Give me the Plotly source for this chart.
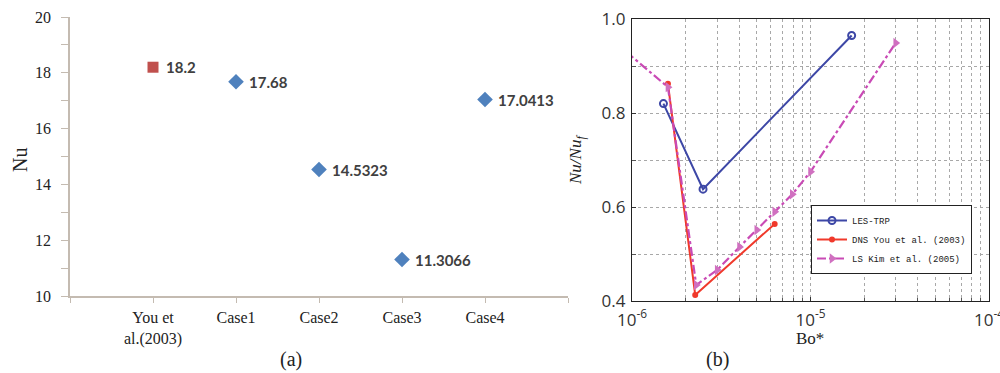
import plotly.graph_objects as go

# ---- panel (a): Nusselt number per case ----
case_labels = ["You et<br>al.(2003)", "Case1", "Case2", "Case3", "Case4"]
case_pos = [0, 1, 2, 3, 4]
nu_ref = [18.2]
nu_cases = [17.68, 14.5323, 11.3066, 17.0413]

# ---- panel (b): normalised Nusselt number vs buoyancy parameter ----
les_bo = [1.5e-6, 2.5e-6, 1.7e-5]
les_nu = [0.82, 0.638, 0.965]

dns_bo = [1.59e-6, 2.26e-6, 6.3e-6]
dns_nu = [0.862, 0.413, 0.564]

ls_bo = [9.3e-7, 1.59e-6, 2.29e-6, 3.0e-6, 4.0e-6, 5.0e-6, 6.3e-6, 7.9e-6, 1.0e-5, 3.0e-5]
ls_nu = [0.93, 0.855, 0.434, 0.466, 0.515, 0.551, 0.59, 0.627, 0.675, 0.949]

W, H = 1000, 373


def px_x(p):
    return p / W


def px_y(p):
    return 1 - p / H


fig = go.Figure()

fig.add_trace(go.Scatter(
    x=case_pos[:1], y=nu_ref, mode="markers",
    marker=dict(symbol="square", size=11, color="#C0504D"),
    xaxis="x", yaxis="y", showlegend=False,
))
fig.add_trace(go.Scatter(
    x=case_pos[1:], y=nu_cases, mode="markers",
    marker=dict(symbol="diamond", size=12, color="#4F81BD"),
    xaxis="x", yaxis="y", showlegend=False,
))

# value labels beside each marker
for xv, yv in zip(case_pos, nu_ref + nu_cases):
    fig.add_annotation(
        x=xv, y=yv, xref="x", yref="y", text=f"{yv:g}", showarrow=False,
        xanchor="left", yanchor="middle", xshift=11,
        font=dict(family="Lato", size=15, color="#404040", weight="bold"),
    )

fig.add_trace(go.Scatter(
    x=les_bo, y=les_nu, mode="lines+markers", name="LES-TRP",
    line=dict(color="#3D47A6", width=2),
    marker=dict(symbol="circle-open", size=7, color="#3D47A6", line=dict(width=2)),
    xaxis="x2", yaxis="y2",
))
fig.add_trace(go.Scatter(
    x=dns_bo, y=dns_nu, mode="lines+markers", name="DNS You et al. (2003)",
    line=dict(color="#F0392B", width=2),
    marker=dict(symbol="circle", size=6, color="#F0392B"),
    xaxis="x2", yaxis="y2",
))
fig.add_trace(go.Scatter(
    x=ls_bo, y=ls_nu, mode="lines+markers", name="LS Kim et al. (2005)",
    line=dict(color="#C94AB5", width=2.2, dash="dashdot"),
    marker=dict(symbol="triangle-right", size=9, color="#D070C0"),
    xaxis="x2", yaxis="y2",
))

axis_grey = "#C4BBB1"
serif = "Liberation Serif"

bo_major = [1e-6, 1e-5, 1e-4]
bo_major_text = ["10<sup>-6</sup>", "10<sup>-5</sup>", "10<sup>-4</sup>"]
bo_minor = [k * 10.0 ** e for e in (-6, -5) for k in range(2, 10)]

fig.update_layout(
    width=W, height=H,
    margin=dict(l=0, r=0, t=0, b=0, autoexpand=False),
    paper_bgcolor="white", plot_bgcolor="white",
    xaxis=dict(
        domain=[px_x(70), px_x(568)], range=[-1, 5],
        tickmode="array", tickvals=[-1] + case_pos + [5], ticktext=[""] + case_labels + [""],
        ticks="outside", ticklen=5, tickcolor=axis_grey,
        showline=True, linecolor=axis_grey, linewidth=1.5,
        showgrid=False, zeroline=False,
        tickfont=dict(family=serif, size=16, color="#222"),
        ticklabelstandoff=1, ticklabeloverflow="allow",
        anchor="y",
    ),
    yaxis=dict(
        domain=[px_y(296), px_y(17)], range=[10, 20],
        tickmode="array", tickvals=[10, 12, 14, 16, 18, 20],
        ticks="outside", ticklen=7, tickcolor=axis_grey,
        minor=dict(tickmode="array", tickvals=[11, 13, 15, 17, 19], ticks="outside",
                   ticklen=7, tickcolor=axis_grey, showgrid=False),
        showline=True, linecolor=axis_grey, linewidth=1.5,
        showgrid=False, zeroline=False,
        tickfont=dict(family=serif, size=16, color="#222"),
        ticklabelstandoff=7, ticklabeloverflow="allow",
        anchor="x",
    ),
    xaxis2=dict(
        domain=[px_x(632), px_x(989)], type="log", range=[-6, -4],
        tickmode="array", tickvals=bo_major, ticktext=bo_major_text,
        ticks="inside", ticklen=4, tickcolor="#333",
        minor=dict(tickmode="array", tickvals=bo_minor, ticks="inside", ticklen=3,
                   tickcolor="#555", showgrid=True, gridcolor="#A8A8A8",
                   griddash="dot", gridwidth=1),
        showgrid=True, gridcolor="#A8A8A8", griddash="dot", gridwidth=1,
        showline=True, mirror=True, linecolor="#222", linewidth=1.2,
        zeroline=False,
        tickfont=dict(family="Open Sans", size=17, color="#333"),
        ticklabelstandoff=3, ticklabeloverflow="allow",
        anchor="y2",
    ),
    yaxis2=dict(
        domain=[px_y(301), px_y(19)], range=[0.4, 1.0],
        tickmode="array", tickvals=[0.4, 0.6, 0.8, 1.0], tickformat=".1f",
        ticks="inside", ticklen=4, tickcolor="#333",
        minor=dict(tickmode="array", tickvals=[0.5, 0.7, 0.9], ticks="inside", ticklen=4,
                   tickcolor="#555", showgrid=True, gridcolor="#A8A8A8",
                   griddash="dot", gridwidth=1),
        showgrid=True, gridcolor="#A8A8A8", griddash="dot", gridwidth=1,
        showline=True, mirror=True, linecolor="#222", linewidth=1.2,
        zeroline=False,
        tickfont=dict(family="Open Sans", size=17, color="#333"),
        ticklabelstandoff=2, ticklabeloverflow="allow",
        anchor="x2",
    ),
    showlegend=True,
    legend=dict(
        x=px_x(811), y=px_y(205), xanchor="left", yanchor="top",
        bgcolor="white", bordercolor="#222", borderwidth=1,
        font=dict(family="Liberation Mono", size=9, color="#222"),
        itemwidth=30, tracegroupgap=0,
    ),
)

# axis titles and panel captions
captions = [
    (20, 160, "Nu", 20, -90),
    (577, 160, "<i>Nu/Nu<sub>f</sub></i>", 17, -90),
    (810, 338, "Bo*", 17, 0),
    (291, 359, "(a)", 20, 0),
    (717, 359, "(b)", 20, 0),
]
for cx, cy, txt, fs, ang in captions:
    fig.add_annotation(x=px_x(cx), y=px_y(cy), xref="paper", yref="paper", text=txt,
                       textangle=ang, showarrow=False, xanchor="center", yanchor="middle",
                       font=dict(family=serif, size=fs, color="#222"))

fig.write_html("out.html")
